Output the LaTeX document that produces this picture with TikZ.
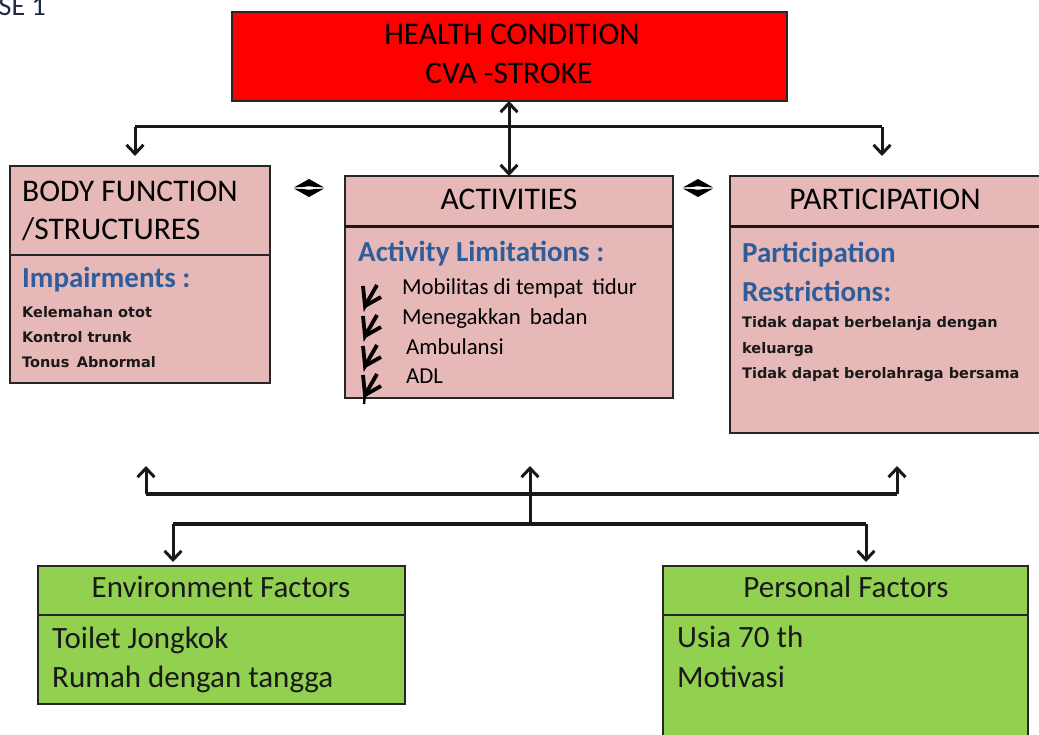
\documentclass[tikz,border=0pt]{standalone}
\usepackage{fontspec}
\setmainfont{Carlito}
\newfontfamily\dv{DejaVu Sans}
\usetikzlibrary{arrows.meta}
\definecolor{pinkf}{HTML}{E6B9B8}
\definecolor{greenf}{HTML}{92D050}
\definecolor{redf}{HTML}{FF0000}
\definecolor{bluet}{HTML}{2F5D9B}
\definecolor{navy}{HTML}{1F2A44}
\begin{document}
\begin{tikzpicture}[x=1pt,y=-1pt,
  box/.style={draw=black!85, line width=1.8pt, anchor=north west, inner sep=0pt, outer sep=0pt},
  pinkbox/.style={box, fill=pinkf},
  greenbox/.style={box, fill=greenf},
  divider/.style={draw=black!85, line width=1.8pt},
  thickdiv/.style={draw=black!90, line width=3pt},
  head/.style={font=\fontsize{31.5}{36}\selectfont, text=black, inner sep=0pt},
  bluehead/.style={font=\fontsize{29}{33}\selectfont\bfseries, text=bluet, inner sep=0pt, anchor=base west},
  item/.style={font=\fontsize{22.8}{26}\selectfont, text=black, inner sep=0pt, anchor=base west},
  small/.style={font=\dv\fontsize{14.5}{17}\selectfont\bfseries, text=black!90, inner sep=0pt, anchor=base west},
  green/.style={font=\fontsize{31}{36}\selectfont, text=black!90, inner sep=0pt},
  tipb/.tip={Straight Barb[length=9pt,width=17pt]},
  conn/.style={line width=3pt, draw=black!90},
  fat/.style={line width=4.5pt, draw=black!90},
  bul/.style={line width=3.8pt, draw=black},
  dmark/.style={fill=black}
]
\clip (0,0) rectangle (1039,735);
\fill[white] (0,0) rectangle (1039,735);

% corner label (cut off)
\node[font=\fontsize{28}{32}\selectfont, text=navy, anchor=base east, inner sep=0pt] (case) at (46,16) {CASE 1};

% health condition
\node[box, fill=redf, minimum width=555pt, minimum height=89pt] (health) at (232,12) {};
\node[head, anchor=base] (hc1) at (512,45) {HEALTH CONDITION};
\node[head, anchor=base] (hc2) at (509,84) {CVA -STROKE};

% body function box
\node[pinkbox, minimum width=260pt, minimum height=217pt] (body) at (10,166) {};
\draw[divider] (10,255) -- (270,255);
\node[head, anchor=base west] (bf1) at (22,202) {BODY FUNCTION};
\node[head, anchor=base west] (bf2) at (22,240) {/STRUCTURES};
\node[bluehead] (imp) at (22,288) {Impairments :};
\node[small] (i1) at (22,318) {Kelemahan otot};
\node[small] (i2) at (22,342) {Kontrol trunk};
\node[small] (i3) at (22,367) {Tonus\, Abnormal};

% activities box
\node[pinkbox, minimum width=328pt, minimum height=222pt] (act) at (345,176) {};
\draw[thickdiv] (345,227) -- (673,227);
\node[head, anchor=base] (acth) at (509,210) {ACTIVITIES};
\node[bluehead] (al) at (358,262) {Activity Limitations :};
\node[item] (a1) at (402,295) {Mobilitas di tempat\, tidur};
\node[item] (a2) at (402,325) {Menegakkan\, badan};
\node[item] (a3) at (406,355) {Ambulansi};
\node[item] (a4) at (406,384) {ADL};
\foreach \yc in {296,326,356,385}{
  \draw[bul] (363,\yc-10) -- (365,\yc+10) -- (377,\yc-11);
  \draw[bul] (365,\yc+10) -- (381,\yc+1);
}
\draw[line width=2.4pt] (365,394) -- (364,404);

% participation box
\node[pinkbox, minimum width=320pt, minimum height=257pt] (part) at (730,176) {};
\draw[thickdiv] (730,227) -- (1045,227);
\node[head, anchor=base] (parth) at (885,210) {PARTICIPATION};
\node[bluehead] (pr1) at (742,263) {Participation};
\node[bluehead] (pr2) at (742,302) {Restrictions:};
\node[small] (p1) at (742,328) {Tidak dapat berbelanja dengan};
\node[small] (p2) at (742,353) {keluarga};
\node[small] (p3) at (742,378) {Tidak dapat berolahraga bersama};

% small double-headed marks between boxes
\foreach \cx in {309,698}{
  \fill[dmark] (\cx-15,187.4) -- (\cx,179) -- (\cx+15,187.4) -- (\cx+6,187) -- (\cx,186.2) -- (\cx-6,187) -- cycle;
  \fill[dmark] (\cx-15,188.6) -- (\cx,197) -- (\cx+15,188.6) -- (\cx+6,189) -- (\cx,189.8) -- (\cx-6,189) -- cycle;
}

% top connectors
\coordinate (tl) at (135,127);
\coordinate (tr) at (882,127);
\coordinate (tld) at (135,156);
\coordinate (trd) at (882,156);
\draw[conn] (tl) -- (tr);
\draw[conn, -{tipb}] (tl) -- (tld);
\draw[conn, -{tipb}] (tr) -- (trd);
\draw[conn, {tipb}-{tipb}] (health.south -| act.north) -- (act.north);

% bottom connectors
\coordinate (ul) at (146,494);
\coordinate (ur) at (897,494);
\coordinate (ulu) at (146,466);
\coordinate (uru) at (897,466);
\coordinate (um) at (530,524);
\coordinate (umu) at (530,466);
\coordinate (ll) at (173,524);
\coordinate (lr) at (866,524);
\coordinate (lld) at (173,562);
\coordinate (lrd) at (866,562);
\draw[fat] (ul) -- (ur);
\draw[fat] (ll) -- (lr);
\draw[conn, -{tipb}] (ul) -- (ulu);
\draw[conn, -{tipb}] (ur) -- (uru);
\draw[conn, -{tipb}] (um) -- (umu);
\draw[conn, -{tipb}] (ll) -- (lld);
\draw[conn, -{tipb}] (lr) -- (lrd);

% environment factors
\node[greenbox, minimum width=367pt, minimum height=138pt] (env) at (38,566) {};
\draw[divider] (38,615) -- (405,615);
\node[green, anchor=base] (envh) at (221,597) {Environment Factors};
\node[green, anchor=base west] (e1) at (52,648) {Toilet Jongkok};
\node[green, anchor=base west] (e2) at (52,687) {Rumah dengan tangga};

% personal factors
\node[greenbox, minimum width=365pt, minimum height=180pt] (pers) at (663,566) {};
\draw[divider] (663,615) -- (1028,615);
\node[green, anchor=base] (persh) at (846,597) {Personal Factors};
\node[green, anchor=base west] (pf1) at (677,647) {Usia 70 th};
\node[green, anchor=base west] (pf2) at (677,687) {Motivasi};
\end{tikzpicture}
\end{document}
